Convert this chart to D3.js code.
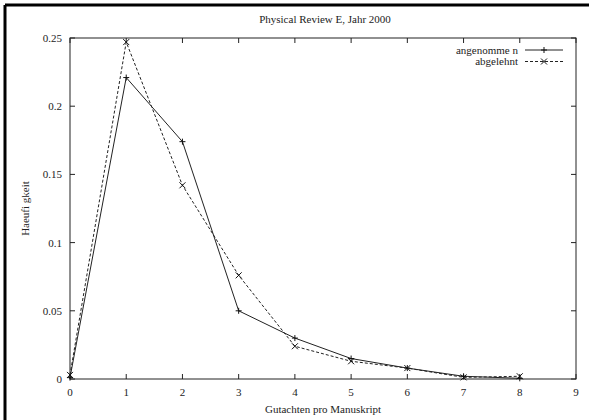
<!DOCTYPE html>
<html>
<head>
<meta charset="utf-8">
<script src="https://cdn.jsdelivr.net/npm/d3@7"></script>
<style>
  html, body { margin: 0; padding: 0; background: #fff; overflow: hidden; }
  svg { display: block; }
</style>
</head>
<body>
<svg id="chart"></svg>
<script>
var width = 589, height = 420
var margin = {left: 70, right: 13, top: 38, bottom: 41}
var fontFamily = "'Liberation Serif', 'Times New Roman', Times, 'DejaVu Serif', serif"

var xValues = [0, 1, 2, 3, 4, 5, 6, 7, 8]
var angenommen = [0.001, 0.221, 0.174, 0.050, 0.030, 0.015, 0.008, 0.002, 0.0005]
var abgelehnt = [0.003, 0.247, 0.142, 0.076, 0.024, 0.013, 0.008, 0.0012, 0.002]
var xTicks = [0, 1, 2, 3, 4, 5, 6, 7, 8, 9]
var yTicks = [0, 0.05, 0.1, 0.15, 0.2, 0.25]
var seriesNames = ["angenomme n", "abgelehnt"]

var svg = d3.select("#chart").attr("width", width).attr("height", height)
    .style("font-family", fontFamily)

// thick frame along top and left edge
svg.append("line").attr("x1", 5).attr("y1", 5).attr("x2", width).attr("y2", 5)
    .attr("stroke", "#000").attr("stroke-width", 3)
svg.append("line").attr("x1", 5).attr("y1", 5).attr("x2", 5).attr("y2", height)
    .attr("stroke", "#000").attr("stroke-width", 3)

var x = d3.scaleLinear().domain([0, 9]).range([margin.left, width - margin.right])
var y = d3.scaleLinear().domain([0, 0.25]).range([height - margin.bottom, margin.top])

var tickLen = 5
var g = svg.append("g")

function setText(sel, px, py, anchor, txt) {
    return sel.append("text").attr("x", px).attr("y", py)
        .attr("text-anchor", anchor).attr("font-size", "11px")
        .style("font-family", fontFamily).style("fill", "#222").text(txt)
}

// box
g.append("rect")
    .attr("x", x(0)).attr("y", y(0.25))
    .attr("width", x(9) - x(0)).attr("height", y(0) - y(0.25))
    .attr("fill", "none").attr("stroke", "#222").attr("stroke-width", 1)

// ticks (inward, mirrored)
xTicks.forEach(function(t) {
    g.append("line").attr("x1", x(t)).attr("x2", x(t)).attr("y1", y(0)).attr("y2", y(0) - tickLen)
        .attr("stroke", "#222")
    g.append("line").attr("x1", x(t)).attr("x2", x(t)).attr("y1", y(0.25)).attr("y2", y(0.25) + tickLen)
        .attr("stroke", "#222")
    setText(g, x(t), y(0) + 17, "middle", t)
})
yTicks.forEach(function(t) {
    g.append("line").attr("x1", x(0)).attr("x2", x(0) + tickLen).attr("y1", y(t)).attr("y2", y(t))
        .attr("stroke", "#222")
    g.append("line").attr("x1", x(9)).attr("x2", x(9) - tickLen).attr("y1", y(t)).attr("y2", y(t))
        .attr("stroke", "#222")
    setText(g, x(0) - 8, y(t) + 4, "end", d3.format("")(t))
})

// titles
setText(svg, 325, 23, "middle", "Physical Review E, Jahr 2000")
setText(svg, (x(0) + x(9)) / 2, 413, "middle", "Gutachten pro Manuskript")
setText(svg, 0, 0, "middle", "Haeufi gkeit")
    .attr("transform", "translate(29," + ((y(0) + y(0.25)) / 2) + ") rotate(-90)")

var line = d3.line().x(function(d, i) { return x(xValues[i]) }).y(function(d) { return y(d) })

function plus(sel, cx, cy) {
    sel.append("path").attr("d", "M" + (cx - 3) + "," + cy + "h6M" + cx + "," + (cy - 3) + "v6")
        .attr("stroke", "#111").attr("stroke-width", 1)
}
function cross(sel, cx, cy) {
    sel.append("path").attr("d", "M" + (cx - 3) + "," + (cy - 3) + "l6,6M" + (cx - 3) + "," + (cy + 3) + "l6,-6")
        .attr("stroke", "#111").attr("stroke-width", 1)
}

g.append("path").datum(angenommen).attr("d", line)
    .attr("fill", "none").attr("stroke", "#222").attr("stroke-width", 1)
angenommen.forEach(function(d, i) { plus(g, x(xValues[i]), y(d)) })

g.append("path").datum(abgelehnt).attr("d", line)
    .attr("fill", "none").attr("stroke", "#222").attr("stroke-width", 1).attr("stroke-dasharray", "3,2")
abgelehnt.forEach(function(d, i) { cross(g, x(xValues[i]), y(d)) })

// legend
var lx1 = 525, lx2 = 563
setText(svg, 518, 54, "end", seriesNames[0])
svg.append("line").attr("x1", lx1).attr("x2", lx2).attr("y1", 50).attr("y2", 50)
    .attr("stroke", "#222")
plus(svg, (lx1 + lx2) / 2, 50)
setText(svg, 518, 65, "end", seriesNames[1])
svg.append("line").attr("x1", lx1).attr("x2", lx2).attr("y1", 61.5).attr("y2", 61.5)
    .attr("stroke", "#222").attr("stroke-dasharray", "3,2")
cross(svg, (lx1 + lx2) / 2, 61.5)
</script>
</body>
</html>
